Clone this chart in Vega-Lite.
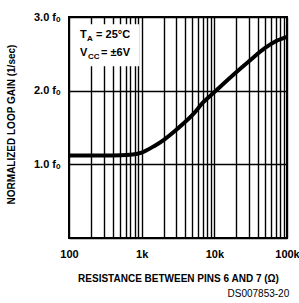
{
  "$schema": "https://vega.github.io/schema/vega-lite/v6.json",
  "width": 218,
  "height": 221,
  "autosize": {"type": "none"},
  "padding": {"left": 69, "top": 17, "right": 12, "bottom": 65},
  "background": "white",
  "config": {
    "view": {"stroke": "black", "strokeWidth": 2},
    "font": "Liberation Sans"
  },
  "title": {
    "text": "DS007853-20",
    "orient": "bottom",
    "anchor": "end",
    "font": "Liberation Sans",
    "fontSize": 10,
    "fontWeight": "normal",
    "color": "black",
    "offset": 6,
    "dx": -10
  },
  "datasets": {
    "curve": [
      {"r": 100, "g": 1.12},
      {"r": 200, "g": 1.12},
      {"r": 400, "g": 1.12},
      {"r": 700, "g": 1.13},
      {"r": 1000, "g": 1.16},
      {"r": 1500, "g": 1.25},
      {"r": 2000, "g": 1.33},
      {"r": 3000, "g": 1.47},
      {"r": 5000, "g": 1.67},
      {"r": 7000, "g": 1.84},
      {"r": 10000, "g": 1.98},
      {"r": 20000, "g": 2.25},
      {"r": 30000, "g": 2.4},
      {"r": 50000, "g": 2.58},
      {"r": 70000, "g": 2.67},
      {"r": 100000, "g": 2.73}
    ],
    "box": [{"x1": 118, "x2": 930, "y1": 2.33, "y2": 2.9}],
    "ann1": [{"x": 142, "y": 2.76}],
    "ann2": [{"x": 142, "y": 2.51}]
  },
  "layer": [
    {
      "data": {"name": "curve"},
      "mark": {"type": "line", "color": "black", "strokeWidth": 4, "interpolate": "monotone"},
      "encoding": {
        "x": {
          "field": "r", "type": "quantitative",
          "scale": {"type": "log", "domain": [100, 100000]},
          "axis": {
            "values": [100,200,300,400,500,600,700,800,900,1000,2000,3000,4000,5000,6000,7000,8000,9000,10000,20000,30000,40000,50000,60000,70000,80000,90000,100000],
            "labelExpr": "datum.value==100?'100':datum.value==1000?'1k':datum.value==10000?'10k':datum.value==100000?'100k':''",
            "grid": true, "gridColor": "black", "gridWidth": 1.4, "gridOpacity": 1,
            "ticks": false, "domain": false,
            "labelFlush": false, "labelBound": false, "labelOverlap": false,
            "labelFontSize": 11, "labelFontWeight": "bold", "labelColor": "black", "labelPadding": 10,
            "title": "RESISTANCE BETWEEN PINS 6 AND 7 (Ω)",
            "titleFontSize": 10, "titleFontWeight": "bold", "titleColor": "black",
            "titleY": 35, "titleBaseline": "top"
          }
        },
        "y": {
          "field": "g", "type": "quantitative",
          "scale": {"domain": [0, 3], "nice": false},
          "axis": {
            "values": [0,0.25,0.5,0.75,1,1.25,1.5,1.75,2,2.25,2.5,2.75,3],
            "labelExpr": "datum.value>=1 && datum.value%1==0 ? format(datum.value,'.1f')+' fₒ' : ''",
            "grid": true, "gridColor": "black", "gridWidth": 1.4, "gridOpacity": 1,
            "ticks": false, "domain": false,
            "labelFontSize": 11, "labelFontWeight": "bold", "labelColor": "black", "labelPadding": 9,
            "labelOverlap": false,
            "title": "NORMALIZED LOOP GAIN  (1/sec)",
            "titleFontSize": 10, "titleFontWeight": "bold", "titleColor": "black",
            "titleX": -58, "titleY": 107, "titleAngle": -90, "titleAlign": "center", "titleBaseline": "middle"
          }
        }
      }
    },
    {
      "data": {"name": "box"},
      "mark": {"type": "rect", "fill": "white"},
      "encoding": {
        "x": {"field": "x1", "type": "quantitative"},
        "x2": {"field": "x2"},
        "y": {"field": "y1", "type": "quantitative"},
        "y2": {"field": "y2"}
      }
    },
    {
      "data": {"name": "ann1"},
      "mark": {"type": "text", "text": "T", "align": "left", "baseline": "middle", "fontSize": 11, "fontWeight": "bold", "color": "black"},
      "encoding": {"x": {"field": "x", "type": "quantitative"}, "y": {"field": "y", "type": "quantitative"}}
    },
    {
      "data": {"name": "ann1"},
      "mark": {"type": "text", "text": "A", "align": "left", "baseline": "middle", "fontSize": 8, "fontWeight": "bold", "color": "black", "dx": 7, "dy": 4},
      "encoding": {"x": {"field": "x", "type": "quantitative"}, "y": {"field": "y", "type": "quantitative"}}
    },
    {
      "data": {"name": "ann1"},
      "mark": {"type": "text", "text": "= 25°C", "align": "left", "baseline": "middle", "fontSize": 11, "fontWeight": "bold", "color": "black", "dx": 16},
      "encoding": {"x": {"field": "x", "type": "quantitative"}, "y": {"field": "y", "type": "quantitative"}}
    },
    {
      "data": {"name": "ann2"},
      "mark": {"type": "text", "text": "V", "align": "left", "baseline": "middle", "fontSize": 11, "fontWeight": "bold", "color": "black"},
      "encoding": {"x": {"field": "x", "type": "quantitative"}, "y": {"field": "y", "type": "quantitative"}}
    },
    {
      "data": {"name": "ann2"},
      "mark": {"type": "text", "text": "CC", "align": "left", "baseline": "middle", "fontSize": 8, "fontWeight": "bold", "color": "black", "dx": 8, "dy": 4},
      "encoding": {"x": {"field": "x", "type": "quantitative"}, "y": {"field": "y", "type": "quantitative"}}
    },
    {
      "data": {"name": "ann2"},
      "mark": {"type": "text", "text": "= ±6V", "align": "left", "baseline": "middle", "fontSize": 11, "fontWeight": "bold", "color": "black", "dx": 21},
      "encoding": {"x": {"field": "x", "type": "quantitative"}, "y": {"field": "y", "type": "quantitative"}}
    }
  ]
}
